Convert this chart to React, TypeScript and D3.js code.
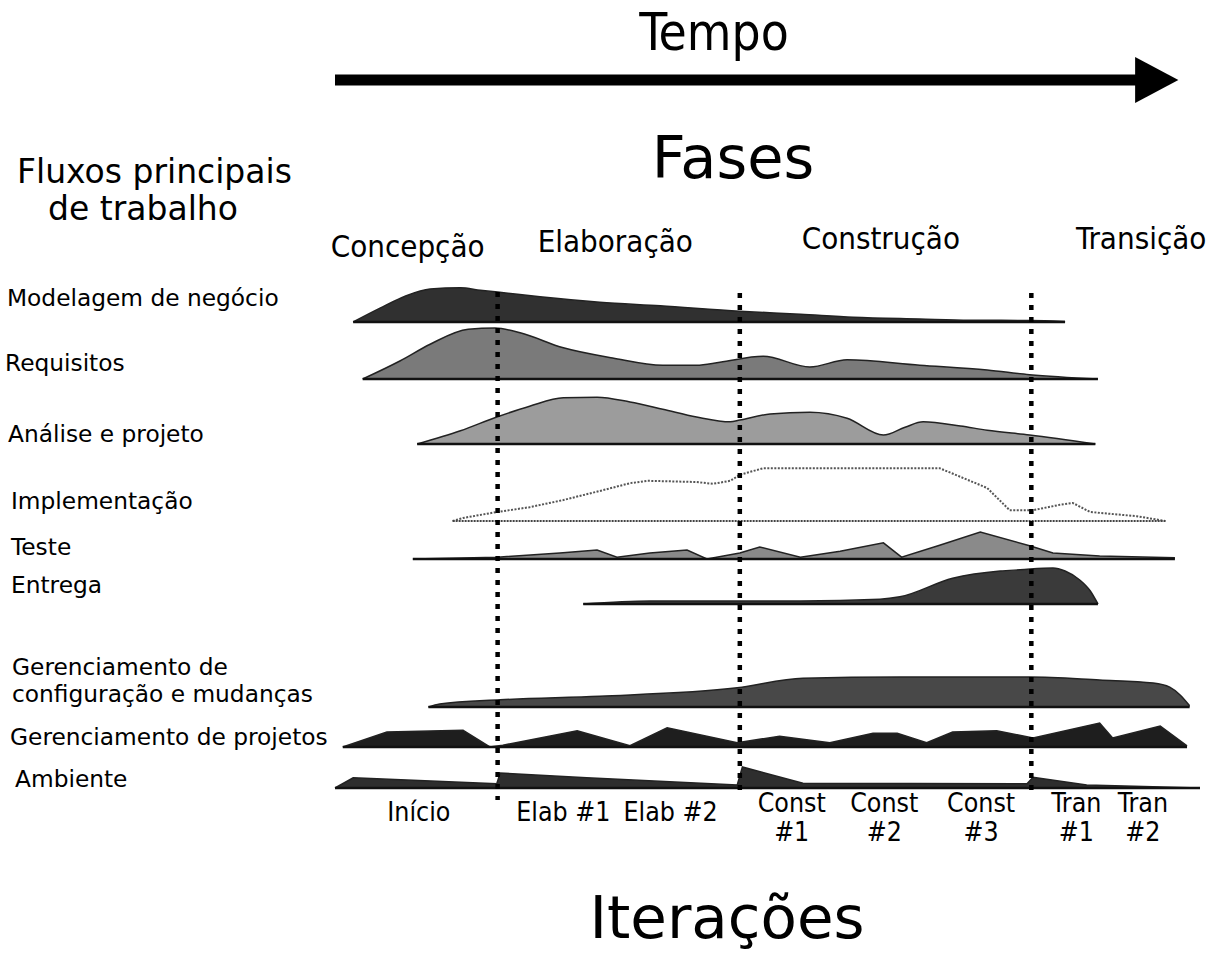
import React from "react";
import * as d3 from "d3";

// ---- data ----
const workflows = [
  "Modelagem de negócio",
  "Requisitos",
  "Análise e projeto",
  "Implementação",
  "Teste",
  "Entrega",
  "Gerenciamento de configuração e mudanças",
  "Gerenciamento de projetos",
  "Ambiente",
];

// time (% of project) / effort intensity (0-10)
const modelagemT = [2.1, 5.2, 8.1, 11.0, 14.5, 16.8, 18.8, 23.7, 30.6, 37.6, 46.8, 53.8, 59.9, 67.6, 73.4, 80.3, 84.4];
const modelagemV = [0, 2.3, 4.3, 5.5, 5.7, 5.3, 5.0, 4.2, 3.3, 2.7, 1.8, 1.3, 0.8, 0.5, 0.3, 0.25, 0.1];
const requisitosT = [3.2, 7.5, 11.0, 15.4, 18.5, 21.4, 26.4, 32.1, 37.9, 41.8, 44.5, 49.5, 54.9, 59.2, 67.6, 75.4, 80.3, 88.2];
const requisitosV = [0, 3.0, 5.8, 8.3, 8.5, 7.7, 5.2, 3.5, 2.3, 2.3, 2.8, 3.8, 2.0, 3.2, 2.3, 1.5, 0.7, 0];
const analiseT = [9.5, 14.5, 18.7, 22.5, 26.4, 30.3, 34.1, 37.9, 41.8, 45.7, 46.8, 50.3, 54.9, 59.2, 63.4, 65.9, 68.0, 72.3, 75.4, 80.3, 87.9];
const analiseV = [0, 2.2, 4.5, 6.3, 7.7, 7.8, 7.0, 5.8, 4.5, 3.7, 4.0, 5.0, 5.3, 4.3, 1.5, 2.8, 3.7, 3.0, 2.3, 1.5, 0];
const implementacaoT = [13.6, 14.8, 18.7, 22.5, 26.4, 30.6, 34.1, 36.1, 41.8, 43.7, 45.7, 46.8, 49.5, 53.8, 69.9, 75.4, 78.0, 80.7, 83.8, 85.3, 87.3, 92.7, 96.0];
const implementacaoV = [0, 0.5, 1.5, 2.3, 3.5, 5.0, 6.3, 6.7, 6.5, 6.2, 6.7, 7.7, 8.8, 8.8, 8.8, 5.5, 1.8, 1.8, 2.7, 3.0, 1.5, 0.8, 0];
const testeT = [9.0, 18.8, 26.0, 30.3, 32.6, 36.4, 40.7, 43.0, 46.8, 49.1, 53.8, 58.4, 63.4, 65.5, 69.9, 74.6, 80.3, 83.0, 88.4, 97.1];
const testeV = [0, 0.3, 1.0, 1.5, 0.3, 1.0, 1.5, 0, 1.0, 2.0, 0.3, 1.3, 2.7, 0.3, 2.3, 4.5, 2.2, 1.0, 0.5, 0.2];
const entregaT = [28.7, 36.4, 53.8, 63.0, 65.3, 71.4, 76.9, 79.2, 83.0, 84.4, 86.1, 87.3, 88.2];
const entregaV = [0, 0.5, 0.5, 0.8, 1.2, 4.3, 5.5, 5.7, 6.0, 5.5, 4.0, 2.2, 0];
const configT = [10.8, 12.1, 19.1, 30.6, 46.5, 54.1, 65.3, 80.3, 88.4, 94.6, 96.5, 97.7, 98.8];
const configV = [0, 0.5, 1.2, 1.8, 3.2, 4.8, 5.0, 5.0, 4.5, 4.0, 3.3, 2.0, 0.2];
const projetosT = [0.9, 6.0, 14.8, 17.9, 19.4, 28.0, 34.1, 38.4, 46.5, 51.4, 57.2, 62.2, 65.0, 68.4, 71.4, 76.5, 80.7, 88.4, 89.9, 95.4, 98.5];
const projetosV = [0, 2.5, 2.8, 0, 0.3, 2.7, 0.2, 3.2, 0.7, 1.8, 0.7, 2.3, 2.3, 0.7, 2.5, 2.7, 1.5, 4.0, 1.5, 3.5, 0.2];
const ambienteT = [0, 2.1, 18.7, 19.1, 29.1, 46.5, 47.1, 54.1, 80.0, 80.7, 86.9, 100];
const ambienteV = [0, 1.7, 0.7, 2.5, 1.7, 0.5, 3.5, 0.8, 0.7, 1.8, 0.5, 0];

const seriesT = [modelagemT, requisitosT, analiseT, implementacaoT, testeT, entregaT, configT, projetosT, ambienteT];
const seriesV = [modelagemV, requisitosV, analiseV, implementacaoV, testeV, entregaV, configV, projetosV, ambienteV];

const phases = ["Concepção", "Elaboração", "Construção", "Transição"];
const phaseCenters = [8.4, 32.4, 63.1, 93.2];
const phaseBoundaries = [18.8, 46.8, 80.5];

const iterationTop = ["Início", "Elab #1", "Elab #2", "Const", "Const", "Const", "Tran", "Tran"];
const iterationBottom = ["", "", "", "#1", "#2", "#3", "#1", "#2"];
const iterationCenters = [9.7, 26.4, 38.8, 52.8, 63.5, 74.7, 85.7, 93.4];

// ---- layout / style ----
const W = 1217;
const H = 973;
const rowBaselines = [322, 379, 444, 521, 559, 604, 707, 747, 788];
const rowFills = ["#303030", "#7a7a7a", "#9c9c9c", "#ffffff", "#8a8a8a", "#3a3a3a", "#484848", "#1e1e1e", "#2e2e2e"];
const rowCurves = [d3.curveMonotoneX, d3.curveMonotoneX, d3.curveMonotoneX, d3.curveLinear, d3.curveLinear, d3.curveMonotoneX, d3.curveMonotoneX, d3.curveLinear, d3.curveLinear];
const labelLines = [
  ["Modelagem de negócio"],
  ["Requisitos"],
  ["Análise e projeto"],
  ["Implementação"],
  ["Teste"],
  ["Entrega"],
  ["Gerenciamento de", "configuração e mudanças"],
  ["Gerenciamento de projetos"],
  ["Ambiente"],
];
const labelX = [7, 5, 8, 11, 11, 11, 12, 10, 15];
const labelY = [306, 371, 442, 509, 555, 593, 702, 745, 787];

const SANS = "'DejaVu Sans', Verdana, sans-serif";
const COND = "'DejaVu Sans Condensed', 'DejaVu Sans', sans-serif";

export default function App() {
  const x = d3.scaleLinear().domain([0, 100]).range([335, 1200]);
  const h = d3.scaleLinear().domain([0, 10]).range([0, 60]);

  return (
    <svg width={W} height={H} style={{ position: "absolute", left: 0, top: 0, background: "#fff" }}>
      <rect width={W} height={H} fill="#fff" />
      {/* Tempo arrow */}
      <text x={714} y={50} fontFamily={COND} fontStretch="condensed" fontSize={51} textAnchor="middle" fill="#000">Tempo</text>
      <line x1={x(0)} x2={x(93)} y1={80} y2={80} stroke="#000" strokeWidth={11} />
      <path d={`M${x(92.5)},57 L${x(97.5)},80 L${x(92.5)},103 Z`} fill="#000" />

      <text x={733} y={178} fontFamily={SANS} fontSize={59} textAnchor="middle" fill="#000">Fases</text>
      <text x={17} y={183} fontFamily={SANS} fontSize={33} fill="#000">Fluxos principais</text>
      <text x={48} y={220} fontFamily={SANS} fontSize={33} fill="#000">de trabalho</text>

      {phases.map((p, i) => (
        <text key={p} x={x(phaseCenters[i])} y={[257, 252, 249, 249][i]} fontFamily={COND} fontStretch="condensed" fontSize={31} textAnchor="middle" fill="#000">{p}</text>
      ))}

      {workflows.map((w, i) => {
        const pts = seriesT[i].map((t, k) => [t, seriesV[i][k]] as [number, number]);
        const base = rowBaselines[i];
        const area = d3.area<[number, number]>()
          .x((d) => x(d[0]))
          .y0(base)
          .y1((d) => base - h(d[1]))
          .curve(rowCurves[i]);
        const line = d3.line<[number, number]>()
          .x((d) => x(d[0]))
          .y((d) => base - h(d[1]))
          .curve(rowCurves[i]);
        const isImpl = i === 3;
        const t0 = seriesT[i][0];
        const t1 = seriesT[i][seriesT[i].length - 1];
        return (
          <g key={w}>
            <path d={area(pts) || ""} fill={rowFills[i]} stroke="none" />
            <path d={line(pts) || ""} fill="none" stroke={isImpl ? "#555" : "#222"} strokeWidth={isImpl ? 2 : 1.5} strokeDasharray={isImpl ? "2 1.5" : undefined} />
            <line x1={x(t0)} x2={x(t1)} y1={base} y2={base} stroke={isImpl ? "#444" : "#111"} strokeWidth={isImpl ? 2.2 : 2.5} strokeDasharray={isImpl ? "2 1" : undefined} />
          </g>
        );
      })}

      {phaseBoundaries.map((b, i) => (
        <line key={i} x1={x(b)} x2={x(b)} y1={i === 0 ? 292 : 293} y2={i === 0 ? 800 : 796} stroke="#000" strokeWidth={4.5} strokeDasharray="5 7" />
      ))}

      {workflows.map((w, i) =>
        labelLines[i].map((ln, j) => (
          <text key={w + j} x={labelX[i]} y={labelY[i] - (labelLines[i].length - 1 - j) * 27} fontFamily={SANS} fontSize={23.3} fill="#000">{ln}</text>
        ))
      )}

      {iterationTop.map((lab, i) => {
        const two = iterationBottom[i] !== "";
        return (
          <g key={i}>
            <text x={x(iterationCenters[i])} y={two ? 812 : 821} fontFamily={COND} fontStretch="condensed" fontSize={26.5} textAnchor="middle" fill="#000">{lab}</text>
            {two && (
              <text x={x(iterationCenters[i])} y={841} fontFamily={COND} fontStretch="condensed" fontSize={26.5} textAnchor="middle" fill="#000">{iterationBottom[i]}</text>
            )}
          </g>
        );
      })}

      <text x={727} y={938} fontFamily={SANS} fontSize={59.5} textAnchor="middle" fill="#000">Iterações</text>
    </svg>
  );
}
